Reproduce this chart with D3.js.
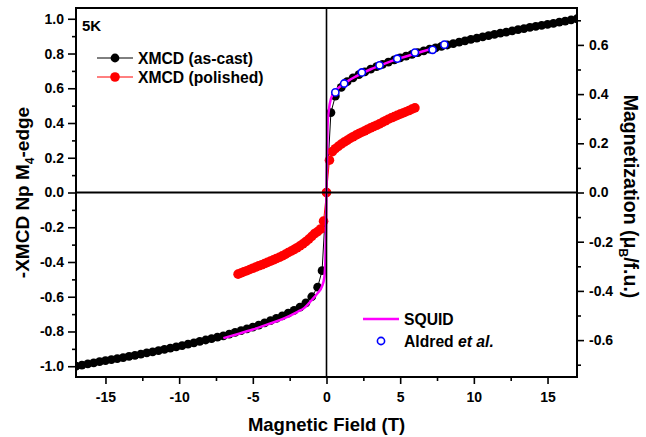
<!DOCTYPE html>
<html>
<head>
<meta charset="utf-8">
<script src="https://cdn.jsdelivr.net/npm/d3@7"></script>
<style>
html,body{margin:0;padding:0;background:#fff;}
svg text{font-family:"Liberation Sans",Arial,sans-serif;font-weight:bold;}
</style>
</head>
<body>
<svg id="chart" width="646" height="437"></svg>
<script>
// ---------- data ----------
const xTicks = [-15, -10, -5, 0, 5, 10, 15];
const xMinorTicks = [-12.5, -7.5, -2.5, 2.5, 7.5, 12.5];
const leftTicks = [-1.0, -0.8, -0.6, -0.4, -0.2, 0.0, 0.2, 0.4, 0.6, 0.8, 1.0];
const leftMinorTicks = [-0.9, -0.7, -0.5, -0.3, -0.1, 0.1, 0.3, 0.5, 0.7, 0.9];
const rightTicks = [-0.6, -0.4, -0.2, 0.0, 0.2, 0.4, 0.6];
const rightMinorTicks = [-0.7, -0.5, -0.3, -0.1, 0.1, 0.3, 0.5, 0.7];

// XMCD (as-cast), left axis
const asCastField = [-17.0,-16.6,-16.2,-15.8,-15.4,-15.0,-14.6,-14.2,-13.8,-13.4,-13.0,-12.6,-12.2,-11.8,-11.4,-11.0,-10.6,-10.2,-9.8,-9.4,-9.0,-8.6,-8.2,-7.8,-7.4,-7.0,-6.6,-6.2,-5.8,-5.4,-5.0,-4.6,-4.2,-3.8,-3.4,-3.0,-2.6,-2.2,-1.8,-1.4,-1.0,-0.6,-0.3,0,
  0.3,0.6,1.0,1.4,1.8,2.2,2.6,3.0,3.4,3.8,4.2,4.6,5.0,5.4,5.8,6.2,6.6,7.0,7.4,7.8,8.2,8.6,9.0,9.4,9.8,10.2,10.6,11.0,11.4,11.8,12.2,12.6,13.0,13.4,13.8,14.2,14.6,15.0,15.4,15.8,16.2,16.6,17.0];
const asCastXmcd = [-1.0,-0.994,-0.987,-0.981,-0.974,-0.968,-0.962,-0.956,-0.950,-0.943,-0.937,-0.930,-0.923,-0.917,-0.910,-0.903,-0.896,-0.889,-0.881,-0.873,-0.865,-0.857,-0.849,-0.841,-0.833,-0.825,-0.815,-0.805,-0.795,-0.785,-0.775,-0.763,-0.751,-0.738,-0.724,-0.710,-0.694,-0.678,-0.660,-0.635,-0.600,-0.545,-0.450,0,
  0.46,0.555,0.605,0.638,0.660,0.678,0.694,0.710,0.724,0.738,0.751,0.763,0.775,0.785,0.795,0.805,0.815,0.825,0.833,0.841,0.849,0.857,0.865,0.873,0.881,0.889,0.896,0.903,0.910,0.917,0.923,0.930,0.937,0.943,0.950,0.956,0.962,0.968,0.974,0.981,0.987,0.994,1.0];

// XMCD (polished), left axis
const polishedField = [-6.0,-5.8,-5.6,-5.4,-5.2,-5.0,-4.8,-4.6,-4.4,-4.2,-4.0,-3.8,-3.6,-3.4,-3.2,-3.0,-2.8,-2.6,-2.4,-2.2,-2.0,-1.8,-1.6,-1.4,-1.2,-1.0,-0.8,-0.6,-0.4,-0.2,0,
  0.2,0.4,0.6,0.8,1.0,1.2,1.4,1.6,1.8,2.0,2.2,2.4,2.6,2.8,3.0,3.2,3.4,3.6,3.8,4.0,4.2,4.4,4.6,4.8,5.0,5.2,5.4,5.6,5.8,6.0];
const polishedXmcd = [-0.470,-0.463,-0.456,-0.450,-0.443,-0.436,-0.429,-0.422,-0.416,-0.409,-0.402,-0.395,-0.388,-0.380,-0.373,-0.365,-0.356,-0.346,-0.337,-0.328,-0.318,-0.307,-0.296,-0.283,-0.268,-0.252,-0.236,-0.225,-0.210,-0.165,0,
  0.186,0.235,0.252,0.266,0.279,0.290,0.300,0.311,0.321,0.330,0.339,0.347,0.355,0.364,0.372,0.380,0.387,0.395,0.404,0.413,0.422,0.430,0.437,0.444,0.451,0.458,0.465,0.472,0.480,0.487];

// SQUID magnetization (muB/f.u.), right axis
const squidField = [-7,-6,-5,-4,-3,-2,-1.5,-1,-0.6,-0.3,-0.15,-0.08,-0.04,0,0.04,0.08,0.15,0.3,0.6,1,1.5,2,3,4,5,6,7];
const squidMoment = [-0.592,-0.575,-0.557,-0.536,-0.515,-0.486,-0.469,-0.437,-0.409,-0.381,-0.345,-0.282,-0.176,0,0.176,0.282,0.331,0.381,0.412,0.434,0.455,0.472,0.501,0.525,0.546,0.564,0.582];

// Aldred et al. (muB/f.u.), right axis
const aldredField = [0.6,1.2,2.4,3.6,4.8,6.0,7.2,8.0];
const aldredMoment = [0.407,0.443,0.488,0.517,0.544,0.569,0.580,0.601];

// ---------- layout ----------
const svg = d3.select("#chart");
const L = 76, R = 577, T = 8, B = 377;
const x = d3.scaleLinear().domain([-17, 17]).range([L, R]);
const yL = d3.scaleLinear().domain([-1.062, 1.062]).range([B, T]);
const yR = d3.scaleLinear().domain([-0.75, 0.75]).range([B, T]);

const fmt1 = d3.format(".1f");
const hy = s => s.replace("\u2212", "-");
const TICKFS = "14px";

svg.append("defs").append("clipPath").attr("id", "clip")
  .append("rect").attr("x", L).attr("y", T).attr("width", R - L).attr("height", B - T);

function styleAxis(g, fs) {
  g.selectAll(".domain").remove();
  g.selectAll("line").attr("stroke", "#000").attr("stroke-width", 1.6);
  g.selectAll("text").attr("font-size", fs).attr("fill", "#000");
}
const gx = svg.append("g").attr("transform", `translate(0,${B})`)
  .call(d3.axisBottom(x).tickValues(xTicks).tickSize(7).tickPadding(8).tickFormat(d => hy(d3.format("d")(d))));
styleAxis(gx, TICKFS);
const gxm = svg.append("g").attr("transform", `translate(0,${B})`)
  .call(d3.axisBottom(x).tickValues(xMinorTicks).tickSize(4).tickFormat(""));
styleAxis(gxm, TICKFS);

const gl = svg.append("g").attr("transform", `translate(${L},0)`)
  .call(d3.axisLeft(yL).tickValues(leftTicks).tickSize(8).tickPadding(4).tickFormat(d => hy(fmt1(d))));
styleAxis(gl, TICKFS);
const glm = svg.append("g").attr("transform", `translate(${L},0)`)
  .call(d3.axisLeft(yL).tickValues(leftMinorTicks).tickSize(4).tickFormat(""));
styleAxis(glm, TICKFS);

const gr = svg.append("g").attr("transform", `translate(${R},0)`)
  .call(d3.axisRight(yR).tickValues(rightTicks).tickSize(7).tickPadding(5).tickFormat(d => hy(fmt1(d))));
styleAxis(gr, TICKFS);
const grm = svg.append("g").attr("transform", `translate(${R},0)`)
  .call(d3.axisRight(yR).tickValues(rightMinorTicks).tickSize(4).tickFormat(""));
styleAxis(grm, TICKFS);

// data
const plot = svg.append("g").attr("clip-path", "url(#clip)");

const asCast = asCastField.map((f, i) => [f, asCastXmcd[i]]);
const polished = polishedField.map((f, i) => [f, polishedXmcd[i]]);
const squid = squidField.map((f, i) => [f, squidMoment[i]]);
const aldred = aldredField.map((f, i) => [f, aldredMoment[i]]);

const lineL = d3.line().x(d => x(d[0])).y(d => yL(d[1]));
const lineR = d3.line().x(d => x(d[0])).y(d => yR(d[1]));

plot.append("path").datum(asCast).attr("d", lineL).attr("fill", "none").attr("stroke", "#000").attr("stroke-width", 1);
plot.selectAll(".ac").data(asCast).enter().append("circle")
  .attr("cx", d => x(d[0])).attr("cy", d => yL(d[1])).attr("r", 4.4).attr("fill", "#000");

plot.append("path").datum(polished).attr("d", lineL).attr("fill", "none").attr("stroke", "#ff0000").attr("stroke-width", 1);
plot.selectAll(".po").data(polished).enter().append("circle")
  .attr("cx", d => x(d[0])).attr("cy", d => yL(d[1])).attr("r", 4.8).attr("fill", "#ff0000");

plot.append("path").datum(squid).attr("d", lineR.curve(d3.curveMonotoneX)).attr("fill", "none")
  .attr("stroke", "#ff00ff").attr("stroke-width", 2.5);

// zero lines
svg.append("line").attr("x1", L).attr("x2", R).attr("y1", yL(0)).attr("y2", yL(0)).attr("stroke", "#000").attr("stroke-width", 2);
svg.append("line").attr("x1", x(0)).attr("x2", x(0)).attr("y1", T).attr("y2", B).attr("stroke", "#000").attr("stroke-width", 1.6);

plot.selectAll(".al").data(aldred).enter().append("circle")
  .attr("cx", d => x(d[0])).attr("cy", d => yR(d[1])).attr("r", 3.6)
  .attr("fill", "#fff").attr("stroke", "#0000ff").attr("stroke-width", 1.6);

// frame
svg.append("rect").attr("x", L).attr("y", T).attr("width", R - L).attr("height", B - T)
  .attr("fill", "none").attr("stroke", "#000").attr("stroke-width", 2);

// labels
svg.append("text").attr("x", 82).attr("y", 31).attr("font-size", "15px").text("5K");

svg.append("text").attr("x", (L + R) / 2).attr("y", 431).attr("text-anchor", "middle")
  .attr("font-size", "18.5px").text("Magnetic Field (T)");

const ylab = svg.append("text").attr("transform", `translate(29,${(T + B) / 2}) rotate(-90)`)
  .attr("text-anchor", "middle").attr("font-size", "19px");
ylab.append("tspan").text("-XMCD Np M");
ylab.append("tspan").attr("font-size", "12px").attr("dy", 5).text("4");
ylab.append("tspan").attr("dy", -5).text("-edge");

const rlab = svg.append("text").attr("transform", `translate(624,${(T + B) / 2 + 4}) rotate(90)`)
  .attr("text-anchor", "middle").attr("font-size", "19.5px");
rlab.append("tspan").text("Magnetization (\u03bc");
rlab.append("tspan").attr("font-size", "12px").attr("dy", 5).text("B");
rlab.append("tspan").attr("dy", -5).text("/f.u.)");

// legend top-left
const leg = [
  {y: 58, color: "#000", label: "XMCD (as-cast)", r: 4.4},
  {y: 77, color: "#ff0000", label: "XMCD (polished)", r: 4.8}
];
leg.forEach(l => {
  svg.append("line").attr("x1", 97).attr("x2", 133).attr("y1", l.y).attr("y2", l.y).attr("stroke", l.color).attr("stroke-width", 1);
  svg.append("circle").attr("cx", 115).attr("cy", l.y).attr("r", l.r).attr("fill", l.color);
  svg.append("text").attr("x", 138).attr("y", l.y + 5.5).attr("font-size", "15.7px").text(l.label);
});

// legend bottom-right
svg.append("line").attr("x1", 363).attr("x2", 399).attr("y1", 319).attr("y2", 319).attr("stroke", "#ff00ff").attr("stroke-width", 2.5);
svg.append("text").attr("x", 404).attr("y", 324.5).attr("font-size", "15.7px").text("SQUID");
svg.append("circle").attr("cx", 381).attr("cy", 341).attr("r", 3.6).attr("fill", "#fff").attr("stroke", "#0000ff").attr("stroke-width", 1.6);
const al = svg.append("text").attr("x", 404).attr("y", 346.5).attr("font-size", "15.7px");
al.append("tspan").text("Aldred ");
al.append("tspan").attr("font-style", "italic").text("et al.");
</script>
</body>
</html>
